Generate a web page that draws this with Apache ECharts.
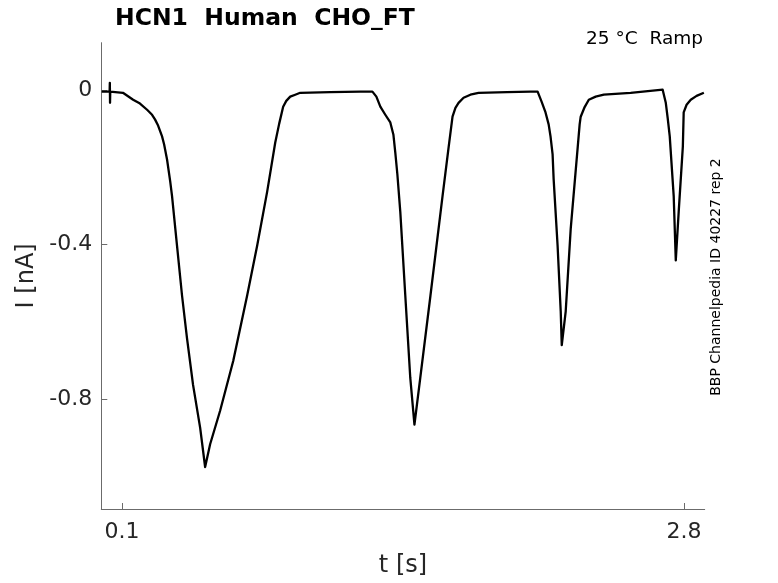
<!DOCTYPE html>
<html>
<head>
<meta charset="utf-8">
<script src="https://cdn.jsdelivr.net/npm/echarts@6/dist/echarts.min.js"></script>
<style>html,body{margin:0;padding:0;background:#fff}#c{width:778px;height:583px}</style>
</head>
<body>
<div id="c"></div>
<script>
// Time (s) and current (nA)
var timeS = [
  0.002, 0.040, 0.041, 0.042, 0.043, 0.104, 0.153, 0.186, 0.220, 0.244, 0.258, 0.273, 0.292, 0.302, 0.316, 0.331, 0.340,
  0.364, 0.388, 0.412, 0.441, 0.475, 0.499,
  0.523, 0.571, 0.634, 0.701, 0.749, 0.797, 0.836, 0.855, 0.874, 0.889, 0.908, 0.932, 0.956, 1.100, 1.245, 1.303,
  1.322, 1.341, 1.365, 1.389, 1.404, 1.413, 1.423, 1.437, 1.461, 1.485, 1.505,
  1.533, 1.582, 1.640, 1.668, 1.688, 1.702, 1.717, 1.741, 1.774, 1.813, 1.950, 2.063, 2.097,
  2.116, 2.135, 2.150, 2.159, 2.169, 2.174, 2.193, 2.208, 2.213,
  2.232, 2.256, 2.290, 2.299, 2.304, 2.323, 2.343, 2.376, 2.415, 2.544, 2.698,
  2.713, 2.722, 2.732, 2.751, 2.761,
  2.775, 2.795, 2.799, 2.813, 2.833, 2.861, 2.896
];
var currentNA = [
  -0.003, -0.003, 0.020, -0.032, -0.003, -0.006, -0.024, -0.034, -0.050, -0.063, -0.075, -0.091, -0.119, -0.140, -0.179, -0.235, -0.274,
  -0.403, -0.532, -0.643, -0.764, -0.875, -0.977,
  -0.918, -0.831, -0.702, -0.532, -0.403, -0.263, -0.135, -0.086, -0.042, -0.027, -0.016, -0.011, -0.006, -0.004, -0.003, -0.003,
  -0.016, -0.042, -0.063, -0.083, -0.115, -0.161, -0.218, -0.315, -0.532, -0.746, -0.867,
  -0.746, -0.532, -0.274, -0.153, -0.068, -0.045, -0.032, -0.019, -0.011, -0.006, -0.004, -0.003, -0.003,
  -0.029, -0.057, -0.088, -0.119, -0.166, -0.230, -0.403, -0.573, -0.661,
  -0.573, -0.359, -0.145, -0.088, -0.068, -0.043, -0.024, -0.016, -0.011, -0.006, 0.002,
  -0.032, -0.071, -0.119, -0.274, -0.441,
  -0.315, -0.145, -0.057, -0.037, -0.024, -0.014, -0.006
];
var xTicks = [0.1, 2.8];
var yTicks = [-0.8, -0.4, 0];
var titleText = 'HCN1  Human  CHO_FT';
var subtitleText = '25 °C  Ramp';
var sideText = 'BBP Channelpedia ID 40227 rep 2';

var seriesData = timeS.map(function (t, i) { return [t, currentNA[i]]; });
var FONT = 'DejaVu Sans';
var chart = echarts.init(document.getElementById('c'), null, { renderer: 'canvas', width: 778, height: 583 });
chart.setOption({
  animation: false,
  backgroundColor: '#ffffff',
  grid: { left: 101.3, width: 603.4, top: 42.7, height: 469.3, containLabel: false },
  xAxis: {
    type: 'value', min: 0, max: 2.9,
    name: 't [s]', nameLocation: 'middle', nameGap: 45,
    nameTextStyle: { fontFamily: FONT, fontSize: 24, color: '#262626' },
    axisLine: { show: true, onZero: false, lineStyle: { color: '#6b6b6b', width: 1 } },
    axisTick: { show: true, inside: true, length: 6, customValues: xTicks, lineStyle: { color: '#6b6b6b' } },
    axisLabel: { customValues: xTicks, margin: 12, fontFamily: FONT, fontSize: 22, color: '#262626',
      formatter: function (v) { return String(v); } },
    splitLine: { show: false }
  },
  yAxis: {
    type: 'value', min: -1.086, max: 0.124,
    name: 'I [nA]', nameLocation: 'middle', nameGap: 59,
    nameTextStyle: { fontFamily: FONT, fontSize: 24, color: '#262626' },
    axisLine: { show: true, onZero: false, lineStyle: { color: '#6b6b6b', width: 1 } },
    axisTick: { show: true, inside: true, length: 6, customValues: yTicks, lineStyle: { color: '#6b6b6b' } },
    axisLabel: { customValues: yTicks, margin: 9, fontFamily: FONT, fontSize: 22, color: '#262626',
      formatter: function (v) { return Math.abs(v) < 1e-9 ? '0' : v.toFixed(1); } },
    splitLine: { show: false }
  },
  series: [{
    type: 'line', data: seriesData, showSymbol: false, symbol: 'none',
    lineStyle: { color: '#000000', width: 2.3, join: 'round' }, clip: true
  }],
  graphic: [
    { type: 'text', left: 115, top: 7,
      style: { text: titleText, fontFamily: FONT, fontWeight: 'bold', fontSize: 23.5, fill: '#000' } },
    { type: 'text', right: 75, top: 30,
      style: { text: subtitleText, fontFamily: FONT, fontSize: 18.5, fill: '#000' } },
    { type: 'text', x: 716, y: 277, rotation: Math.PI / 2,
      style: { text: sideText, fontFamily: FONT, fontSize: 14, fill: '#000', align: 'center', verticalAlign: 'middle' } }
  ]
});
</script>
</body>
</html>
